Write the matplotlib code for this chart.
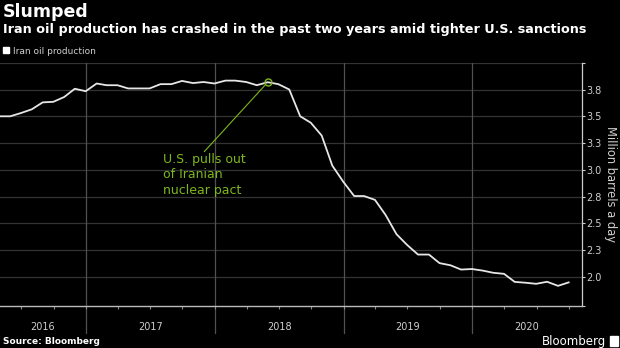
import datetime as dt
import numpy as np
import pandas as pd
import matplotlib
matplotlib.use('Agg')
import matplotlib.pyplot as plt
import matplotlib.dates as mdates
from matplotlib.lines import Line2D
from matplotlib.patches import Rectangle

plt.rcParams['font.family'] = ['DejaVu Sans']

# monthly production, million barrels a day (month-end)
dates = pd.date_range('2016-04-30', periods=54, freq='ME')
production = [3.50, 3.50, 3.53, 3.565, 3.63, 3.635, 3.68, 3.757, 3.734,
              3.806, 3.79, 3.79, 3.76, 3.76, 3.76, 3.80, 3.80, 3.83, 3.81,
              3.82, 3.806, 3.833, 3.833, 3.82, 3.79, 3.818, 3.80, 3.75,
              3.50, 3.44, 3.32, 3.04, 2.89, 2.756, 2.756, 2.72, 2.58, 2.40,
              2.30, 2.21, 2.21, 2.13, 2.11, 2.07, 2.075, 2.06, 2.04, 2.03,
              1.955, 1.947, 1.937, 1.956, 1.918, 1.95]

y_ticks = [2.0, 2.25, 2.5, 2.75, 3.0, 3.25, 3.5, 3.75]
y_labels = ['2.0', '2.3', '2.5', '2.8', '3.0', '3.3', '3.5', '3.8']
years = [2016, 2017, 2018, 2019, 2020]

event_date = pd.Timestamp('2018-05-31')
event_text = 'U.S. pulls out\nof Iranian\nnuclear pact'

GREEN = '#7db61c'
GRID = '#333333'
LABEL = '#cfcfcf'

fig = plt.figure(figsize=(6.2, 3.48), dpi=100, facecolor='black')
ax = fig.add_axes([0, 0.1207, 0.9382, 0.6991])
ax.set_facecolor('black')

x_left = dt.datetime(2016, 5, 2)
x_right = dt.datetime(2020, 11, 6)
ax.set_xlim(x_left, x_right)
ax.set_ylim(1.73, 4.0)

# horizontal grid
for v in y_ticks + [4.0]:
    ax.axhline(v, color=GRID, lw=0.9, zorder=0)

# year separators, running below the axis
for yr in years[1:]:
    ax.plot([dt.datetime(yr, 1, 1)] * 2, [-0.11, 1], color='#505050', lw=0.9,
            transform=ax.get_xaxis_transform(), clip_on=False, zorder=0)

ax.plot(dates, production, color='#e6e6e6', lw=1.3, zorder=3)

# annotation
ev_val = production[list(dates).index(event_date)]
ax.plot([event_date], [ev_val], marker='o', ms=5, mfc='none', mec=GREEN,
        mew=1, zorder=4)
ax.annotate('', xy=(event_date, ev_val), xytext=(dt.datetime(2017, 12, 2), 3.17),
            arrowprops=dict(arrowstyle='-', color=GREEN, lw=0.8,
                            shrinkA=0, shrinkB=2.5))
ax.text(dt.datetime(2017, 8, 7), 3.16, event_text, color=GREEN, fontsize=9,
        ha='left', va='top', linespacing=1.25)

# y axis on the right
ax.yaxis.tick_right()
ax.set_yticks(y_ticks)
ax.set_yticklabels(y_labels)
ax.set_yticks([1.73, 4.0], minor=True)
ax.tick_params(axis='y', which='both', direction='out', length=2.5, width=0.8,
               color='#cccccc', labelcolor=LABEL, labelsize=7, pad=0.8)

# x axis: quarterly ticks, year labels centred in each span
ax.xaxis.set_major_locator(mdates.MonthLocator(bymonth=[1, 4, 7, 10]))
ax.xaxis.set_major_formatter(plt.NullFormatter())
ax.tick_params(axis='x', which='both', direction='out', length=2, width=0.8,
               color='#888888')
lo, hi = mdates.date2num(x_left), mdates.date2num(x_right)
for yr in years:
    a = max(mdates.date2num(dt.datetime(yr, 1, 1)), lo)
    b = min(mdates.date2num(dt.datetime(yr + 1, 1, 1)), hi)
    ax.text((a + b) / 2, -0.086, str(yr), transform=ax.get_xaxis_transform(),
            ha='center', va='center', color=LABEL, fontsize=7)

for side in ['top', 'left']:
    ax.spines[side].set_visible(False)
ax.spines['bottom'].set_color('#bbbbbb')
ax.spines['right'].set_color('#cccccc')
ax.spines['bottom'].set_linewidth(1)
ax.spines['right'].set_linewidth(0.9)

fig.text(611 / 620, 1 - 184 / 348, 'Million barrels a day', rotation=270,
         ha='center', va='center', color=LABEL, fontsize=8.3)

# titles
fig.text(0.005, 1 - 3 / 348, 'Slumped', color='white', fontsize=12.5,
         fontweight='bold', ha='left', va='top')
fig.text(0.005, 1 - 23 / 348,
         'Iran oil production has crashed in the past two years amid tighter U.S. sanctions',
         color='white', fontsize=9.2, fontweight='bold', ha='left', va='top')

fig.legend(handles=[Line2D([], [], marker='s', color='white', ls='', ms=4.5)],
           labels=['Iran oil production'], loc='center left',
           bbox_to_anchor=(0.006, 1 - 51 / 348), frameon=False, fontsize=6.5,
           handlelength=0.6, handletextpad=0.4, borderaxespad=0, borderpad=0,
           labelcolor=LABEL)

fig.text(0.005, 1 - 341 / 348, 'Source: Bloomberg', color='white', fontsize=6.5,
         fontweight='bold', ha='left', va='center')
fig.text(606 / 620, 1 - 341 / 348, 'Bloomberg', color='white', fontsize=8.5,
         ha='right', va='center')
fig.patches.append(Rectangle((610 / 620, 1 - 346 / 348), 8 / 620, 10 / 348,
                             transform=fig.transFigure, color='white'))

fig.savefig('out.png', dpi=100, facecolor='black')
